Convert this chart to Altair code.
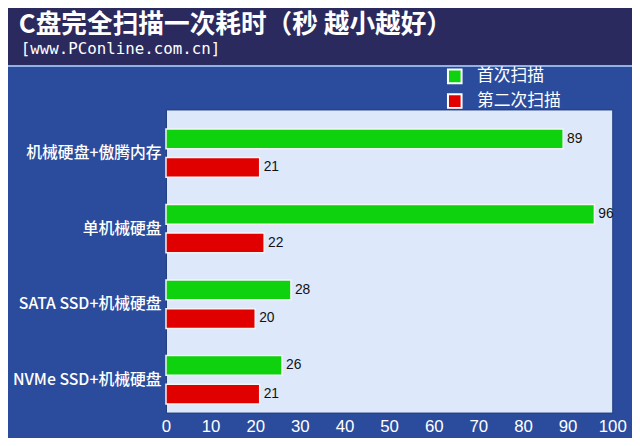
import altair as alt
import pandas as pd

categories = ["机械硬盘+傲腾内存", "单机械硬盘", "SATA SSD+机械硬盘", "NVMe SSD+机械硬盘"]
series = ["首次扫描", "第二次扫描"]
first_scan = [89, 96, 28, 26]
second_scan = [21, 22, 20, 21]
x_ticks = [0, 10, 20, 30, 40, 50, 60, 70, 80, 90, 100]
title_text = "C盘完全扫描一次耗时（秒 越小越好）"
subtitle_text = "[www.PConline.com.cn]"

rows = []
for c, a, b in zip(categories, first_scan, second_scan):
    rows.append({"cat": c, "series": series[0], "value": a})
    rows.append({"cat": c, "series": series[1], "value": b})
df = pd.DataFrame(rows)
one = pd.DataFrame({"t": [title_text], "s": [subtitle_text]})

W, H = 452, 307

y_enc = alt.Y("cat:N", sort=categories,
              scale=alt.Scale(range=[6, 312], paddingInner=0, paddingOuter=0),
              axis=alt.Axis(title=None, labelColor="white", labelFontSize=16,
                            labelFont="Noto Sans CJK SC", labelFontWeight=500,
                            ticks=False, domain=False, labelPadding=5, labelLimit=200))
yoff = alt.YOffset("series:N", sort=series,
                   scale=alt.Scale(paddingInner=0, paddingOuter=0.32))

band = alt.Chart(one).mark_rect(color="#2b2a5e").encode(
    x=alt.value(-168), x2=alt.value(W + 20), y=alt.value(-108), y2=alt.value(-45))
line = alt.Chart(one).mark_rect(color="#8fb3e6").encode(
    x=alt.value(-168), x2=alt.value(W + 20), y=alt.value(-45), y2=alt.value(-43))

title = alt.Chart(one).mark_text(align="left", baseline="middle", color="white",
                                 fontSize=26, font="Noto Sans CJK SC", fontWeight="bold").encode(
    x=alt.value(-149), y=alt.value(-85), text="t:N")
subtitle = alt.Chart(one).mark_text(align="left", baseline="middle", color="white",
                                    fontSize=16, font="DejaVu Sans Mono").encode(
    x=alt.value(-147), y=alt.value(-61), text="s:N")

bars = alt.Chart(df).mark_bar(height=20, stroke="#f4f4f4", strokeWidth=1.5).encode(
    x=alt.X("value:Q", scale=alt.Scale(domain=[0, 100], nice=False),
            axis=alt.Axis(values=x_ticks, title=None, labelColor="white", labelFontSize=17,
                          labelFont="Liberation Sans", ticks=False, domain=False, grid=False,
                          labelPadding=6, labelOverlap=False, labelFlush=False)),
    y=y_enc,
    yOffset=yoff,
    color=alt.Color("series:N", sort=series,
                    scale=alt.Scale(domain=series, range=["#0ed20e", "#e00000"]),
                    legend=alt.Legend(title=None, orient="none", legendX=284, legendY=-42,
                                      symbolType="square", symbolSize=190,
                                      symbolStrokeColor="white", symbolStrokeWidth=2,
                                      symbolOpacity=1,
                                      labelColor="white", labelFontSize=17,
                                      labelFont="Noto Sans CJK SC", labelOffset=14,
                                      rowPadding=2)),
)

labels = alt.Chart(df).mark_text(align="left", baseline="middle", dx=4, fontSize=14,
                                 font="Liberation Sans", color="#111111").encode(
    x="value:Q", y=y_enc, yOffset=yoff, text="value:Q")

chart = alt.layer(band, line, title, subtitle, bars, labels).properties(
    width=W, height=H,
    autosize=alt.AutoSizeParams(type="none"),
    padding={"left": 160, "top": 100, "right": 20, "bottom": 23},
    background="#2b4c9d",
).configure_view(fill="#dde9fa", stroke="#1e3b80", strokeWidth=1)

chart.save("out.html", embed_options={"renderer": "svg", "actions": False})
